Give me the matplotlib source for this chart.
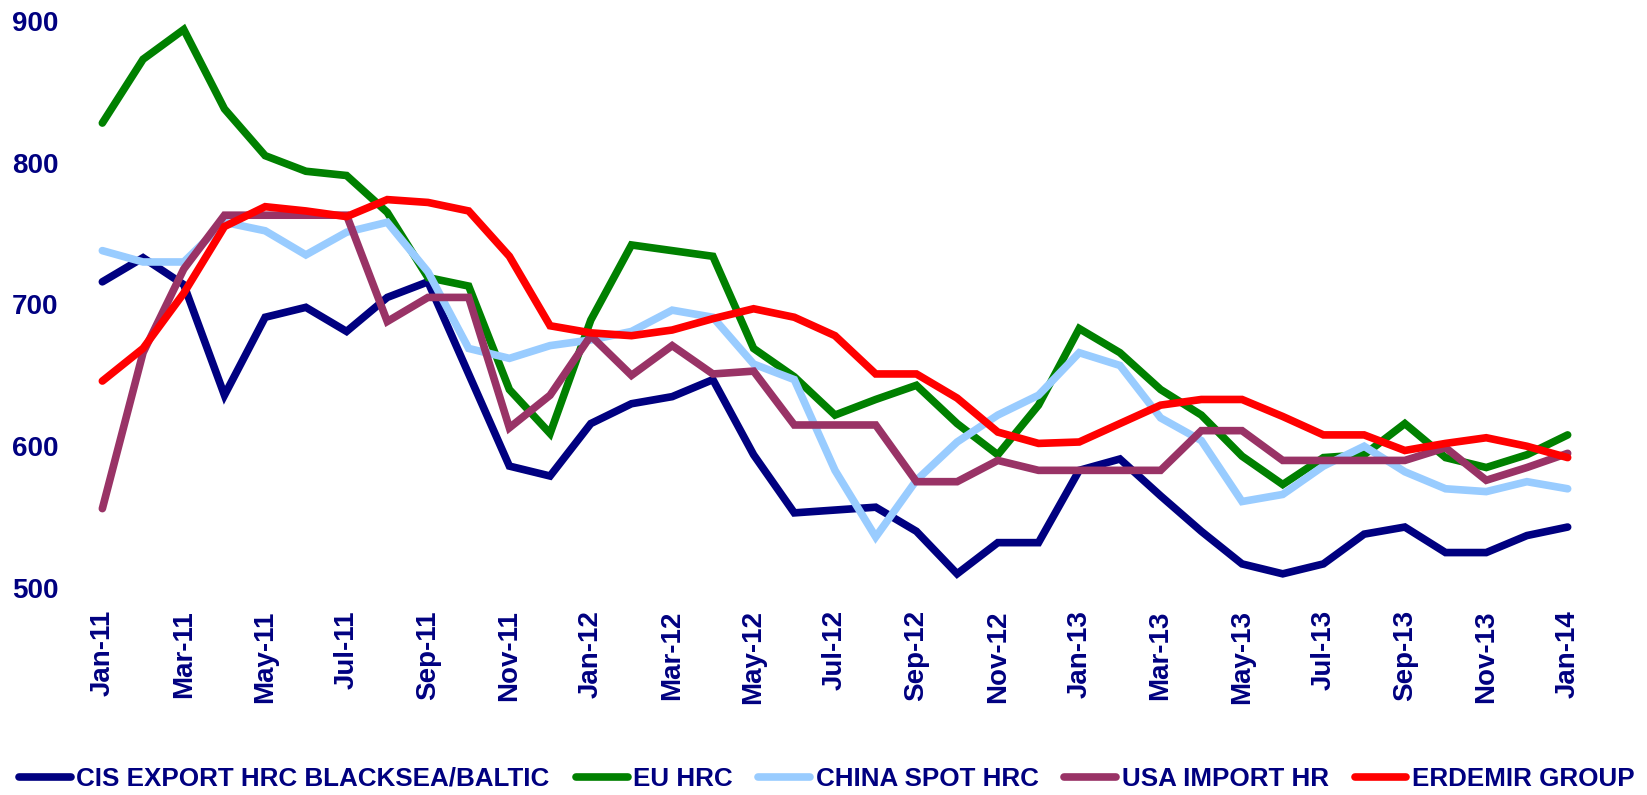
import matplotlib
matplotlib.use("Agg")
import matplotlib.pyplot as plt

months = ["Jan-11","Feb-11","Mar-11","Apr-11","May-11","Jun-11","Jul-11","Aug-11","Sep-11","Oct-11","Nov-11","Dec-11",
          "Jan-12","Feb-12","Mar-12","Apr-12","May-12","Jun-12","Jul-12","Aug-12","Sep-12","Oct-12","Nov-12","Dec-12",
          "Jan-13","Feb-13","Mar-13","Apr-13","May-13","Jun-13","Jul-13","Aug-13","Sep-13","Oct-13","Nov-13","Dec-13",
          "Jan-14"]

cis_export = [716, 733, 714, 636, 691, 698, 681, 705, 716, 651, 586, 579,
              616, 630, 635, 647, 594, 553, 555, 557, 540, 510, 532, 532,
              583, 591, 565, 540, 517, 510, 517, 538, 543, 525, 525, 537,
              543]
eu_hrc = [828, 873, 894, 838, 805, 794, 791, 765, 719, 713, 640, 609,
          689, 742, 738, 734, 669, 649, 622, 633, 643, 616, 594, 629,
          683, 666, 640, 622, 593, 573, 592, 594, 616, 592, 585, 594,
          608]
china_spot = [738, 730, 730, 758, 752, 735, 751, 758, 723, 669, 662, 671,
              675, 681, 696, 691, 658, 647, 583, 536, 576, 603, 622, 636,
              666, 657, 620, 604, 561, 566, 586, 600, 582, 570, 568, 575,
              570]
usa_import = [556, 666, 725, 763, 763, 763, 763, 688, 705, 705, 613, 636,
              678, 650, 671, 651, 653, 615, 615, 615, 575, 575, 590, 583,
              583, 583, 583, 611, 611, 590, 590, 590, 590, 599, 576, 585,
              595]
erdemir = [646, 669, 708, 755, 769, 766, 762, 774, 772, 766, 734, 685,
           680, 678, 682, 690, 697, 691, 678, 651, 651, 634, 610, 602,
           603, 616, 629, 633, 633, 621, 608, 608, 597, 602, 606, 600,
           592]

series_names = ["CIS EXPORT HRC BLACKSEA/BALTIC", "EU HRC", "CHINA SPOT HRC", "USA IMPORT HR", "ERDEMIR GROUP"]
series_values = [cis_export, eu_hrc, china_spot, usa_import, erdemir]
series_colors = ["#000080", "#008000", "#99CCFF", "#993366", "#FF0000"]

y_ticks = [500, 600, 700, 800, 900]

plt.rcParams['font.family'] = ['Liberation Sans', 'DejaVu Sans']
navy = "#000080"

fig = plt.figure(figsize=(16.47, 7.95), dpi=100)
ax = fig.add_axes([82/1647, 1 - 588/795, (1588-82)/1647, (588-21)/795])

x = list(range(len(months)))
for name, vals, col in zip(series_names, series_values, series_colors):
    ax.plot(x, vals, color=col, lw=5.5, label=name, solid_joinstyle='miter', solid_capstyle='round', clip_on=False)

ax.set_xlim(-0.5, len(months) - 0.5)
ax.set_ylim(500, 900)
ax.set_yticks(y_ticks)
ax.set_yticklabels([str(v) for v in y_ticks], fontsize=20, fontweight='bold', color=navy)
ax.set_xticks(x[::2])
ax.set_xticklabels(months[::2], rotation=90, fontsize=20, fontweight='bold', color=navy)
ax.tick_params(axis='both', length=0)
ax.tick_params(axis='y', pad=17)
ax.tick_params(axis='x', pad=16)
for s in ax.spines.values():
    s.set_visible(False)

leg = fig.legend(loc='center', bbox_to_anchor=(0.502, 1 - 779/795), ncol=5, frameon=False,
                 prop={'size': 18.7, 'weight': 'bold'}, handlelength=2.0, handletextpad=0.2,
                 columnspacing=1.0, borderpad=0.0)
for t in leg.get_texts():
    t.set_color(navy)

fig.savefig("out.png", dpi=100)
